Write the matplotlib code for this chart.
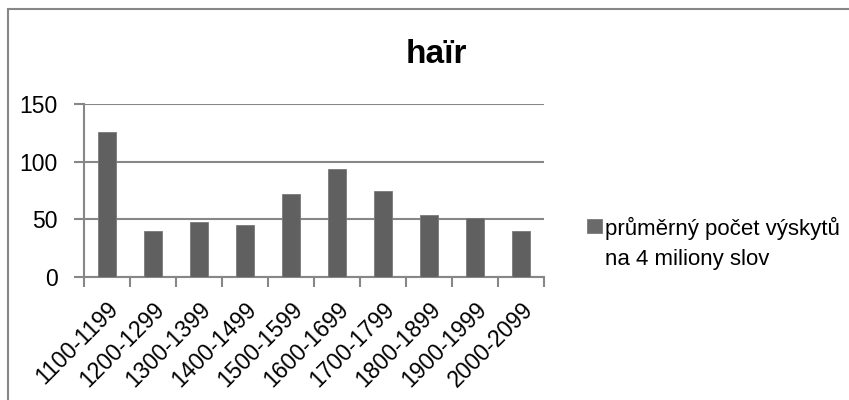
import matplotlib
matplotlib.use("Agg")
import matplotlib.pyplot as plt
from matplotlib.patches import Rectangle
from matplotlib import font_manager

# Century bins and average occurrences per 4 million words
categories = ["1100-1199", "1200-1299", "1300-1399", "1400-1499", "1500-1599",
              "1600-1699", "1700-1799", "1800-1899", "1900-1999", "2000-2099"]
values = [126, 40, 48, 45, 72, 94, 75, 54, 51, 40]
y_ticks = [0, 50, 100, 150]
title = "haïr"
series_label = ["průměrný počet výskytů", "na 4 miliony slov"]

names = {f.name for f in font_manager.fontManager.ttflist}
base_font = "Liberation Sans" if "Liberation Sans" in names else "DejaVu Sans"
title_font = "Liberation Sans Narrow" if "Liberation Sans Narrow" in names else base_font
plt.rcParams["font.family"] = [base_font, "DejaVu Sans"]

bar_color = "#606060"
axis_color = "#878787"

fig = plt.figure(figsize=(8.49, 4.0), dpi=100)
fig.patch.set_facecolor("white")

# outer chart frame (runs past the right and bottom edges)
fig.patches.append(Rectangle((7.5 / 849, -0.05), 1.2, 1 - 8.5 / 400 + 0.05,
                             transform=fig.transFigure, fill=False,
                             edgecolor=axis_color, linewidth=1.5))

ax = fig.add_axes([84 / 849, 1 - 276.7 / 400, 460 / 849, 172.4 / 400])
x = list(range(len(categories)))
bars = ax.bar(x, values, width=0.38, color=bar_color, edgecolor="#7a7a7a",
              linewidth=0.6, zorder=3)

ax.set_xlim(-0.5, len(categories) - 0.5)
ax.set_ylim(0, 150)
ax.set_yticks(y_ticks)
ax.set_yticklabels([str(v) for v in y_ticks], fontsize=16.5)
ax.yaxis.grid(True, color=axis_color, linewidth=1.5, zorder=0)
ax.set_axisbelow(True)

# category ticks sit on the boundaries; labels at the centres
ax.set_xticks([i - 0.5 for i in range(len(categories) + 1)])
ax.set_xticklabels([])
ax.set_xticks(x, minor=True)
ax.set_xticklabels(categories, minor=True, rotation=45, ha="right",
                   rotation_mode="anchor", fontsize=16.5)
ax.tick_params(axis="x", which="minor", length=0, pad=15)
ax.tick_params(axis="x", which="major", length=7, width=1.5, color=axis_color)
ax.tick_params(axis="y", length=7, width=1.5, color=axis_color, pad=12)

for side in ("top", "right"):
    ax.spines[side].set_visible(False)
for side in ("left", "bottom"):
    ax.spines[side].set_color(axis_color)
    ax.spines[side].set_linewidth(1.5)

fig.text(436 / 849, 1 - 63 / 400, title, ha="center", va="baseline",
         fontsize=24, fontweight="bold", family=[title_font, "DejaVu Sans"])

# legend: swatch beside the first line of the series name
fig.patches.append(Rectangle((587 / 849, 1 - 233 / 400), 15 / 849, 14 / 400,
                             transform=fig.transFigure, facecolor="#6a6a6a",
                             edgecolor="#7a7a7a", linewidth=0.6))
for i, line in enumerate(series_label):
    fig.text(605 / 849, 1 - (235 + 30 * i) / 400, line, ha="left",
             va="baseline", fontsize=16)

fig.savefig("out.png", dpi=100, facecolor="white")
